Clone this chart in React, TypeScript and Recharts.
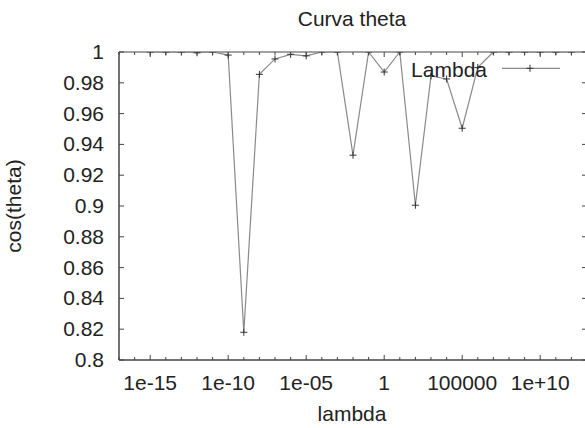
import React from 'react';
import { LineChart, Line, XAxis, YAxis, Legend, ReferenceArea } from 'recharts';

// ---- data ----
const lambdaValues = [
  1e-15, 1e-14, 1e-13, 1e-12, 1e-11, 1e-10, 1e-9, 1e-8, 1e-7, 1e-6, 1e-5, 1e-4, 1e-3, 1e-2,
  1e-1, 1, 1e1, 1e2, 1e3, 1e4, 1e5, 1e6, 1e7, 1e8, 1e9, 1e10, 1e11, 1e12,
];
const cosThetaValues = [
  1, 1, 1, 0.9995, 1, 0.998, 0.818, 0.9855, 0.9955, 0.9985, 0.9975, 1, 1, 0.933,
  1, 0.987, 1, 0.9005, 0.9845, 0.9825, 0.9505, 0.99, 1, 1, 1, 1, 1, 1,
];
const xTicks = [
  1e-17, 1e-16, 1e-15, 1e-14, 1e-13, 1e-12, 1e-11, 1e-10, 1e-9, 1e-8, 1e-7, 1e-6, 1e-5, 1e-4,
  1e-3, 1e-2, 1e-1, 1, 1e1, 1e2, 1e3, 1e4, 1e5, 1e6, 1e7, 1e8, 1e9, 1e10, 1e11, 1e12, 1e13,
];
const xLabeledTicks = [1e-15, 1e-10, 1e-5, 1, 1e5, 1e10];
const xTickLabels = ['1e-15', '1e-10', '1e-05', '1', '100000', '1e+10'];
const yTicks = [0.8, 0.82, 0.84, 0.86, 0.88, 0.9, 0.92, 0.94, 0.96, 0.98, 1];
const yTickLabels = ['0.8', '0.82', '0.84', '0.86', '0.88', '0.9', '0.92', '0.94', '0.96', '0.98', '1'];

const chartData = lambdaValues.map((l, i) => ({ lambda: l, cos: cosThetaValues[i] }));

// ---- layout ----
const W = 600;
const H = 428;
const PLOT_LEFT = 119;
const PLOT_TOP = 52;
const PLOT_BOTTOM = 360;
const PLOT_RIGHT = 587;
const FONT = '"Liberation Sans", Arial, sans-serif';
const TEXT = '#222';
const AXIS = '#444';

const labelFor = (v: number) => {
  const idx = xLabeledTicks.findIndex((t) => Math.abs(Math.log10(t) - Math.log10(v)) < 0.01);
  return idx >= 0 ? xTickLabels[idx] : null;
};

const XTick = (props: any) => {
  const { x, payload } = props;
  const label = labelFor(payload.value);
  const len = label ? 5 : 3;
  return (
    <g>
      <line x1={x} x2={x} y1={PLOT_BOTTOM} y2={PLOT_BOTTOM - len} stroke={AXIS} strokeWidth={1} />
      <line x1={x} x2={x} y1={PLOT_TOP} y2={PLOT_TOP + len} stroke={AXIS} strokeWidth={1} />
      {label && (
        <text x={x} y={390} textAnchor="middle" fontSize={21} fontFamily={FONT} fill={TEXT}>
          {label}
        </text>
      )}
    </g>
  );
};

const YTick = (props: any) => {
  const { y, payload } = props;
  const idx = yTicks.findIndex((t) => Math.abs(t - payload.value) < 1e-6);
  const label = idx >= 0 ? yTickLabels[idx] : '';
  return (
    <g>
      <line x1={PLOT_LEFT} x2={PLOT_LEFT + 5} y1={y} y2={y} stroke={AXIS} strokeWidth={1} />
      <line x1={PLOT_RIGHT} x2={PLOT_RIGHT - 5} y1={y} y2={y} stroke={AXIS} strokeWidth={1} />
      <text x={104} y={y} dy={7} textAnchor="end" fontSize={21} fontFamily={FONT} fill={TEXT}>
        {label}
      </text>
    </g>
  );
};

const PlusDot = (props: any) => {
  const { cx, cy } = props;
  if (cx == null || cy == null) return null;
  const s = 3.5;
  return (
    <g>
      <line x1={cx - s} x2={cx + s} y1={cy} y2={cy} stroke="#333" strokeWidth={1} />
      <line x1={cx} x2={cx} y1={cy - s} y2={cy + s} stroke="#333" strokeWidth={1} />
    </g>
  );
};

const XLabel = (props: any) => {
  const vb = props.viewBox || {};
  const cx = (vb.x ?? PLOT_LEFT) + (vb.width ?? PLOT_RIGHT - PLOT_LEFT) / 2;
  return (
    <text x={cx - 1} y={421} textAnchor="middle" fontSize={21} fontFamily={FONT} fill={TEXT}>
      lambda
    </text>
  );
};

const YLabel = () => (
  <text
    transform={`translate(21, ${(PLOT_TOP + PLOT_BOTTOM) / 2}) rotate(-90)`}
    textAnchor="middle"
    fontSize={21}
    fontFamily={FONT}
    fill={TEXT}
  >
    cos(theta)
  </text>
);

const LegendContent = () => (
  <svg width={185} height={34} style={{ display: 'block', overflow: 'visible' }}>
    <text x={87} y={26.7} textAnchor="end" fontSize={21} fontFamily={FONT} fill={TEXT}>
      Lambda
    </text>
    <line x1={102} x2={160} y1={18.3} y2={18.3} stroke="#8a8a8a" strokeWidth={1.2} />
    <line x1={126.5} x2={133.5} y1={18.3} y2={18.3} stroke="#333" strokeWidth={1} />
    <line x1={130} x2={130} y1={14.8} y2={21.8} stroke="#333" strokeWidth={1} />
  </svg>
);

export default function App() {
  return (
    <div
      style={{
        position: 'fixed',
        left: 0,
        top: 0,
        width: 585,
        height: 428,
        overflow: 'hidden',
        background: '#fff',
      }}
    >
      <div
        style={{
          position: 'absolute',
          left: 252,
          width: 200,
          top: 7,
          textAlign: 'center',
          fontFamily: FONT,
          fontSize: 21,
          lineHeight: '24px',
          color: TEXT,
          zIndex: 2,
        }}
      >
        Curva theta
      </div>
      <LineChart
        width={W}
        height={H}
        data={chartData}
        margin={{ top: PLOT_TOP, right: W - PLOT_RIGHT, bottom: 0, left: 0 }}
      >
        <ReferenceArea
          x1={1e-17}
          x2={1e13}
          y1={0.8}
          y2={1}
          fill="none"
          fillOpacity={0}
          stroke={AXIS}
          strokeWidth={1}
          ifOverflow="visible"
        />
        <XAxis
          dataKey="lambda"
          type="number"
          scale="log"
          domain={[1e-17, 1e13]}
          allowDataOverflow
          ticks={xTicks}
          interval={0}
          tick={<XTick />}
          tickLine={false}
          tickSize={0}
          axisLine={{ stroke: AXIS }}
          height={H - PLOT_BOTTOM}
          label={<XLabel />}
        />
        <YAxis
          type="number"
          domain={[0.8, 1]}
          allowDataOverflow
          ticks={yTicks}
          interval={0}
          tick={<YTick />}
          tickLine={false}
          tickSize={0}
          axisLine={{ stroke: AXIS }}
          width={PLOT_LEFT}
          label={<YLabel />}
        />
        <Legend
          layout="horizontal"
          verticalAlign="middle"
          align="center"
          content={<LegendContent />}
          wrapperStyle={{ position: 'absolute', left: 400, top: 50, width: 185, height: 34 }}
        />
        <Line
          dataKey="cos"
          name="Lambda"
          stroke="#8a8a8a"
          strokeWidth={1.2}
          dot={<PlusDot />}
          activeDot={false}
          isAnimationActive={false}
        />
      </LineChart>
    </div>
  );
}
